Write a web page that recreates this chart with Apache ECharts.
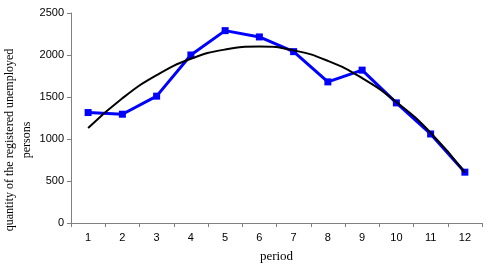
<!DOCTYPE html>
<html>
<head>
<meta charset="utf-8">
<script src="https://cdn.jsdelivr.net/npm/echarts@6/dist/echarts.min.js"></script>
<style>
  html, body { margin: 0; padding: 0; background: #fff; }
  #chart { width: 488px; height: 273px; }
</style>
</head>
<body>
<div id="chart"></div>
<script>
// periods on the x axis
const periods = ["1", "2", "3", "4", "5", "6", "7", "8", "9", "10", "11", "12"];
// registered unemployed persons
const unemployed = [1315, 1295, 1510, 2000, 2290, 2215, 2040, 1680, 1820, 1430, 1060, 605];
// trend curve at each period
const trend = [1130, 1485, 1760, 1955, 2065, 2100, 2055, 1930, 1725, 1440, 1075, 600];

const chart = echarts.init(document.getElementById("chart"));

const axisGray = "#808080";

chart.setOption({
  animation: false,
  grid: { left: 71, right: 6, top: 13, bottom: 50, containLabel: false, outerBoundsMode: "none" },
  xAxis: {
    type: "category",
    data: periods,
    boundaryGap: true,
    name: "period",
    nameLocation: "middle",
    nameGap: 27,
    nameTextStyle: { fontFamily: "Liberation Serif", fontSize: 13, color: "#000" },
    axisLine: { lineStyle: { color: axisGray } },
    axisTick: { show: true, alignWithLabel: false, length: 4, lineStyle: { color: axisGray } },
    axisLabel: { fontFamily: "Liberation Sans", fontSize: 11, color: "#000", margin: 9 },
  },
  yAxis: {
    type: "value",
    min: 0,
    max: 2500,
    interval: 500,
    name: "quantity of the registered unemployed\npersons",
    nameLocation: "middle",
    nameGap: 36,
    nameMoveOverlap: false,
    nameTextStyle: {
      fontFamily: "Liberation Serif", fontSize: 12, color: "#000", lineHeight: 17,
      padding: [0, 44, 0, 0],
    },
    axisLine: { show: true, lineStyle: { color: axisGray } },
    axisTick: { show: true, length: 4, lineStyle: { color: axisGray } },
    axisLabel: {
      fontFamily: "Liberation Sans", fontSize: 11, color: "#000", margin: 7,
      formatter: (v) => String(v),
    },
    splitLine: { show: false },
  },
  series: [
    {
      name: "unemployed",
      type: "line",
      data: unemployed,
      symbol: "rect",
      symbolSize: 7,
      lineStyle: { color: "#0000ff", width: 3 },
      itemStyle: { color: "#0000ff" },
      z: 2,
    },
    {
      name: "trend",
      type: "line",
      data: trend,
      smooth: true,
      symbol: "none",
      lineStyle: { color: "#000", width: 2 },
      z: 3,
    },
  ],
});
</script>
</body>
</html>
